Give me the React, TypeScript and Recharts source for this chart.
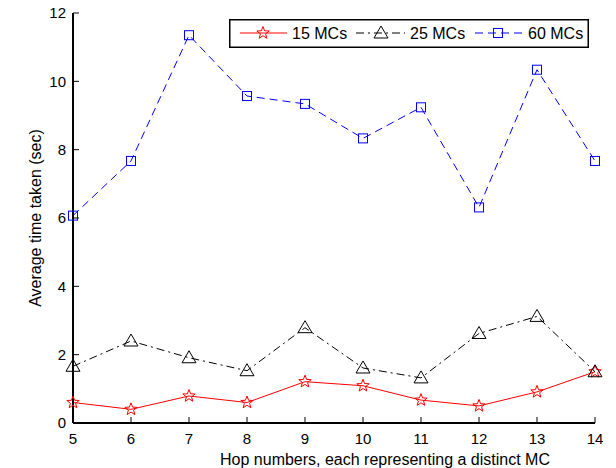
import React from 'react';
import { LineChart, Line, XAxis, YAxis, Legend, Label } from 'recharts';

const hops = [5, 6, 7, 8, 9, 10, 11, 12, 13, 14];
const mc15 = [0.6, 0.4, 0.79, 0.6, 1.21, 1.09, 0.67, 0.5, 0.91, 1.5];
const mc25 = [1.66, 2.4, 1.91, 1.53, 2.79, 1.61, 1.32, 2.62, 3.12, 1.5];
const mc60 = [6.07, 7.67, 11.35, 9.57, 9.34, 8.33, 9.24, 6.31, 10.34, 7.67];
const yTicks = [0, 2, 4, 6, 8, 10, 12];
const seriesNames = ['15 MCs', '25 MCs', '60 MCs'];

const FONT = '"Liberation Sans", Arial, Helvetica, sans-serif';
const RED = '#ff0000';
const BLUE = '#0000ff';
const BLACK = '#000000';

const data = hops.map((hop, i) => ({ hop, mc15: mc15[i], mc25: mc25[i], mc60: mc60[i] }));

function starPoints(cx: number, cy: number, r: number) {
  const pts: string[] = [];
  for (let k = 0; k < 10; k++) {
    const rad = k % 2 === 0 ? r : r * 0.42;
    const a = -Math.PI / 2 + (k * Math.PI) / 5;
    pts.push(`${cx + rad * Math.cos(a)},${cy + rad * Math.sin(a)}`);
  }
  return pts.join(' ');
}

const Star = ({ cx, cy }: { cx: number; cy: number }) => (
  <polygon points={starPoints(cx, cy, 6.5)} fill="none" stroke={RED} strokeWidth={1} />
);
const Tri = ({ cx, cy }: { cx: number; cy: number }) => (
  <polygon
    points={`${cx},${cy - 7} ${cx - 7},${cy + 5} ${cx + 7},${cy + 5}`}
    fill="none"
    stroke={BLACK}
    strokeWidth={1}
  />
);
const Sq = ({ cx, cy }: { cx: number; cy: number }) => (
  <rect x={cx - 4.5} y={cy - 4.5} width={9} height={9} fill="none" stroke={BLUE} strokeWidth={1} />
);

const renderStar = (p: any) => <Star key={`st-${p.index}`} cx={p.cx} cy={p.cy} />;
const renderTri = (p: any) => <Tri key={`tr-${p.index}`} cx={p.cx} cy={p.cy} />;
const renderSq = (p: any) => <Sq key={`sq-${p.index}`} cx={p.cx} cy={p.cy} />;

// y label drawn by hand so the rotated text sits where matlab put it
const YLabel = (props: any) => {
  const vb = props.viewBox || {};
  const x = (vb.x ?? 13) + 22;
  const y = (vb.y ?? 13) + (vb.height ?? 410) / 2;
  return (
    <text
      x={x}
      y={y}
      transform={`rotate(-90, ${x}, ${y})`}
      textAnchor="middle"
      dominantBaseline="central"
      fontSize={16}
      fontFamily={FONT}
      fill={BLACK}
    >
      Average time taken (sec)
    </text>
  );
};

function LegendBox() {
  return (
    <svg width={360} height={29} style={{ display: 'block' }}>
      <rect x={0.75} y={0.75} width={358.5} height={27.5} fill="#fff" stroke={BLACK} strokeWidth={1.5} />
      <line x1={11} y1={14} x2={58} y2={14} stroke={RED} strokeWidth={1} />
      <Star cx={34} cy={14} />
      <text x={63} y={20} fontSize={16} fontFamily={FONT} fill={BLACK}>{seriesNames[0]}</text>
      <line x1={127} y1={14} x2={176} y2={14} stroke={BLACK} strokeWidth={1} strokeDasharray="8 4 2 4" />
      <Tri cx={152} cy={14} />
      <text x={181} y={20} fontSize={16} fontFamily={FONT} fill={BLACK}>{seriesNames[1]}</text>
      <line x1={246} y1={14} x2={294} y2={14} stroke={BLUE} strokeWidth={1} strokeDasharray="8 5" />
      <Sq cx={269} cy={14} />
      <text x={299} y={20} fontSize={16} fontFamily={FONT} fill={BLACK}>{seriesNames[2]}</text>
    </svg>
  );
}

export default function App() {
  const tickStyle = { fill: BLACK, fontSize: 15, fontFamily: FONT };
  return (
    <div style={{ position: 'absolute', left: 0, top: 0, width: 616, height: 468, background: '#fff' }}>
      <LineChart width={616} height={468} data={data} margin={{ top: 13, right: 21, left: 13, bottom: 0 }}>
        <XAxis
          dataKey="hop"
          type="number"
          domain={[5, 14]}
          ticks={hops}
          height={45}
          tickSize={-6}
          tickMargin={16}
          tick={tickStyle}
          axisLine={{ stroke: BLACK, strokeWidth: 2 }}
          tickLine={{ stroke: BLACK }}
        >
          <Label
            value="Hop numbers, each representing a distinct MC"
            position="insideBottom"
            offset={3}
            dx={51}
            style={{ fill: BLACK, fontSize: 16, fontFamily: FONT }}
          />
        </XAxis>
        <XAxis
          xAxisId="top"
          orientation="top"
          dataKey="hop"
          type="number"
          domain={[5, 14]}
          ticks={hops}
          height={0}
          tickSize={-6}
          tick={false}
          axisLine={{ stroke: BLACK, strokeWidth: 2 }}
          tickLine={{ stroke: BLACK }}
        />
        <YAxis
          type="number"
          domain={[0, 12]}
          ticks={yTicks}
          width={60}
          tickSize={-6}
          tickMargin={13}
          tick={tickStyle}
          axisLine={{ stroke: BLACK, strokeWidth: 2 }}
          tickLine={{ stroke: BLACK }}
        >
          <Label content={<YLabel />} />
        </YAxis>
        <YAxis
          yAxisId="right"
          orientation="right"
          type="number"
          domain={[0, 12]}
          ticks={yTicks}
          width={0}
          tickSize={-6}
          tick={false}
          axisLine={{ stroke: BLACK, strokeWidth: 2 }}
          tickLine={{ stroke: BLACK }}
        />
        <Legend
          layout="horizontal"
          verticalAlign="middle"
          align="center"
          wrapperStyle={{ top: 19, left: 229, width: 360, height: 29 }}
          content={() => <LegendBox />}
        />
        <Line
          dataKey="mc15"
          name={seriesNames[0]}
          stroke={RED}
          strokeWidth={1}
          dot={renderStar}
          activeDot={false}
          isAnimationActive={false}
        />
        <Line
          dataKey="mc25"
          name={seriesNames[1]}
          stroke={BLACK}
          strokeWidth={1}
          strokeDasharray="8 4 2 4"
          dot={renderTri}
          activeDot={false}
          isAnimationActive={false}
        />
        <Line
          dataKey="mc60"
          name={seriesNames[2]}
          stroke={BLUE}
          strokeWidth={1}
          strokeDasharray="8 5"
          dot={renderSq}
          activeDot={false}
          isAnimationActive={false}
        />
      </LineChart>
    </div>
  );
}
